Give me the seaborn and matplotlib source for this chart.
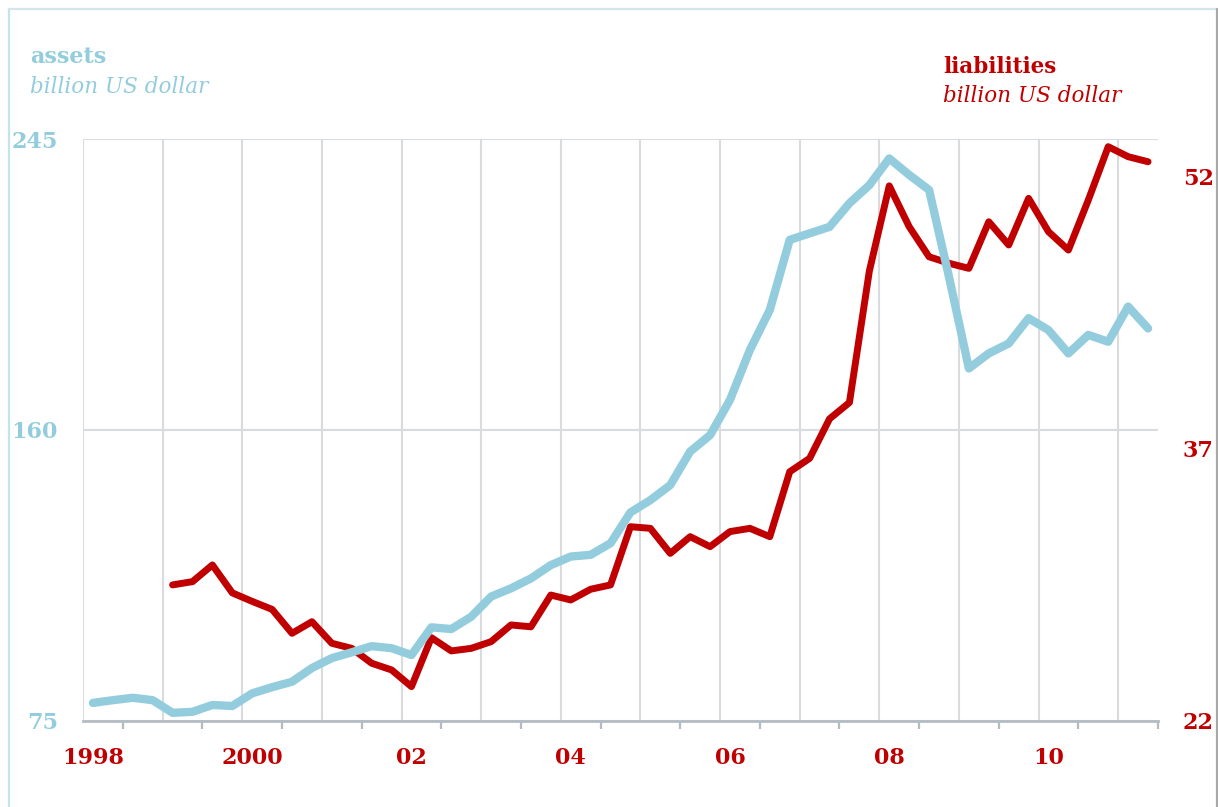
import numpy as np
import matplotlib
matplotlib.use("Agg")
import matplotlib.pyplot as plt
import seaborn as sns
from matplotlib.lines import Line2D

# quarterly data, 1998Q1 .. 2011Q2
quarters = np.arange(54)
assets = [80.2, 81.0, 81.7, 81.0, 77.3, 77.6, 79.6, 79.3, 83.0, 84.8,
          86.4, 90.4, 93.3, 95.0, 96.8, 96.2, 94.2, 102.3, 101.8, 105.4,
          111.3, 113.7, 116.6, 120.5, 123.0, 123.5, 126.9, 135.9, 139.5, 143.9,
          153.7, 158.5, 168.8, 183.4, 195.1, 215.6, 217.5, 219.4, 226.3, 231.6,
          239.4, 234.6, 230.2, 204.8, 178.0, 182.4, 185.3, 192.7, 189.2, 182.4,
          187.8, 185.8, 196.1, 189.7]

# liabilities start in 1999Q1
liab_quarters = np.arange(4, 54)
liabilities = [29.49, 29.67, 30.59, 29.05, 28.58, 28.14, 26.82, 27.46, 26.27, 25.99,
               25.17, 24.80, 23.88, 26.58, 25.85, 25.99, 26.36, 27.28, 27.18, 28.93,
               28.66, 29.25, 29.49, 32.70, 32.61, 31.23, 32.15, 31.60, 32.43, 32.61,
               32.15, 35.73, 36.47, 38.65, 39.55, 46.80, 51.50, 49.25, 47.59, 47.23,
               46.95, 49.52, 48.24, 50.81, 48.97, 47.96, 50.72, 53.66, 53.11, 52.83]

year_pos = [0, 8, 16, 24, 32, 40, 48]
year_labels = ["1998", "2000", "02", "04", "06", "08", "10"]
left_ticks = [75, 160, 245]
right_ticks = [22, 37, 52]

BLUE = "#93CDDD"
RED = "#C00000"
GRID = "#D9DCDF"
AXIS = "#B4BCC3"

sns.set_theme(style="white")
plt.rcParams["font.family"] = ["DejaVu Serif"]

W, H = 1218, 807
fig = plt.figure(figsize=(W / 100, H / 100), dpi=100)
ax = fig.add_axes([83 / W, 86.3 / H, 1075 / W, 581.4 / H])

# base axis: assets scale, grid
ax.set_xlim(-0.5, 53.5)
ax.set_ylim(75, 245)
ax.set_yticks(left_ticks)
ax.set_yticklabels([str(t) for t in left_ticks])
ax.grid(axis="y", color=GRID, linewidth=1.5)
ax.vlines(np.arange(-0.5, 52, 4), 75, 245, color=GRID, linewidth=1.5, zorder=0)
for s in ["top", "right", "left"]:
    ax.spines[s].set_visible(False)
ax.spines["bottom"].set_color(AXIS)
ax.spines["bottom"].set_linewidth(2)

ax.set_xticks(year_pos)
ax.set_xticklabels(year_labels)
ax.set_xticks(np.arange(1.5, 54, 4), minor=True)
ax.tick_params(axis="x", which="major", bottom=True, length=0, pad=19,
               labelsize=16, labelcolor=RED)
ax.tick_params(axis="x", which="minor", bottom=True, length=6, width=1.6,
               color=AXIS, direction="out")
ax.tick_params(axis="y", length=0, pad=18, labelsize=16, labelcolor=BLUE)
for lab in ax.get_xticklabels() + ax.get_yticklabels():
    lab.set_fontweight("bold")

# liabilities on right axis
ax2 = ax.twinx()
sns.lineplot(x=liab_quarters, y=liabilities, ax=ax2, color=RED, linewidth=5,
             solid_joinstyle="round", solid_capstyle="round")
ax2.set_ylim(22, 22 + 581.4 / 18.13)
ax2.set_yticks(right_ticks)
ax2.set_yticklabels([str(t) for t in right_ticks])
ax2.tick_params(axis="y", length=0, pad=18, labelsize=16, labelcolor=RED)
for lab in ax2.get_yticklabels():
    lab.set_fontweight("bold")
ax2.set_ylabel("")
for s in ax2.spines.values():
    s.set_visible(False)

# assets drawn on top
ax3 = ax.twinx()
sns.lineplot(x=quarters, y=assets, ax=ax3, color=BLUE, linewidth=6,
             solid_joinstyle="round", solid_capstyle="round")
ax3.set_ylim(75, 245)
ax3.axis("off")
ax.set_xlim(-0.5, 53.5)

# titles
fig.text(30 / W, 1 - 63 / H, "assets", color=BLUE, fontsize=16,
         fontweight="bold", va="baseline")
fig.text(30 / W, 1 - 93 / H, "billion US dollar", color=BLUE, fontsize=15.5,
         style="italic", va="baseline")
fig.text(943 / W, 1 - 73 / H, "liabilities", color=RED, fontsize=15.5,
         fontweight="bold", va="baseline")
fig.text(943 / W, 1 - 102 / H, "billion US dollar", color=RED, fontsize=15.5,
         style="italic", va="baseline")

# outer frame
fig.add_artist(Line2D([8.5 / W, 8.5 / W], [0, 1 - 8.5 / H], color="#C5E3EC",
                      linewidth=1.6, transform=fig.transFigure))
fig.add_artist(Line2D([8.5 / W, 1216.5 / W], [1 - 8.5 / H, 1 - 8.5 / H],
                      color="#D3E6EC", linewidth=1.6, transform=fig.transFigure))
fig.add_artist(Line2D([1216.5 / W, 1216.5 / W], [0, 1 - 8.5 / H], color="#A8A8A8",
                      linewidth=1.6, transform=fig.transFigure))

fig.savefig("out.png", dpi=100)
